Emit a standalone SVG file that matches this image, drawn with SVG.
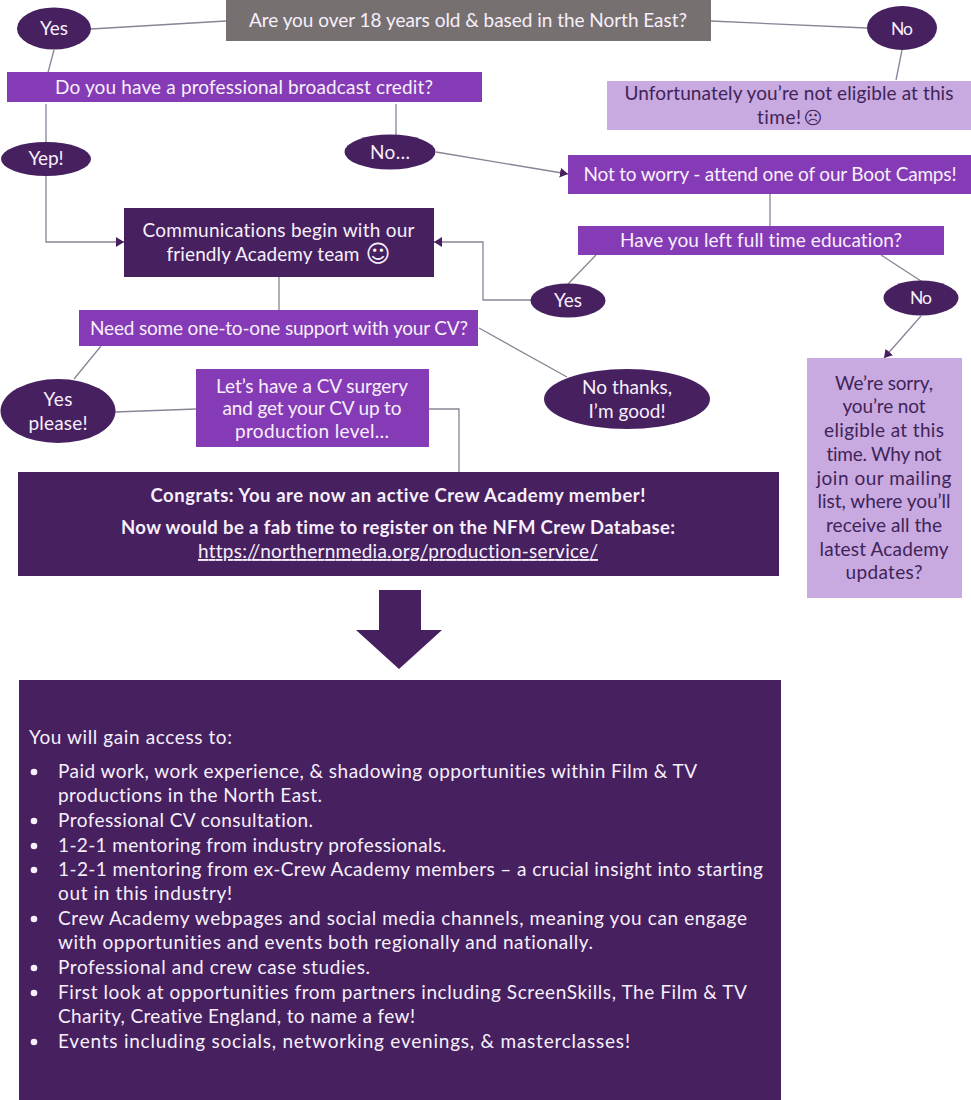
<svg xmlns="http://www.w3.org/2000/svg" width="971" height="1100" viewBox="0 0 971 1100">
<defs>
<marker id="arr" markerUnits="userSpaceOnUse" markerWidth="9" markerHeight="10" refX="8" refY="5" orient="auto"><path d="M0 0L8 5L0 10Z" fill="#46205f"/></marker>
</defs>
<style>
text{font-family:"Lato","Noto Sans",sans-serif;font-size:19px;fill:#f7effc;text-anchor:middle;font-variant-ligatures:none}
.d{fill:#3f2458}
.l{text-anchor:start}
.b{font-weight:700;font-size:18.500px}
.s{font-size:17.500px}
.e{font-family:"DejaVu Sans",sans-serif}
.dark{fill:#46205f}.pur{fill:#853bb5}.lil{fill:#c8a9e0}.gry{fill:#767170}
#connectors path{fill:none;stroke:#8a8296;stroke-width:1.3}
</style>
<rect width="971" height="1100" fill="#fff"/>
<g id="connectors">
<path d="M91 29L226 21"/>
<path d="M54 50L46 80"/>
<path d="M46 104V142"/>
<path d="M46 176V242H124" marker-end="url(#arr)"/>
<path d="M396 104V135"/>
<path d="M436 152L568 174" marker-end="url(#arr)"/>
<path d="M711 21L867 28"/>
<path d="M902 50L896 80"/>
<path d="M770 194V226"/>
<path d="M596 255L568 284"/>
<path d="M881 255L921 281"/>
<path d="M921 316L884 358" marker-end="url(#arr)"/>
<path d="M531 300H483V242H434" marker-end="url(#arr)"/>
<path d="M279 277V310"/>
<path d="M101 346L74 379"/>
<path d="M479 328L567 377"/>
<path d="M115 412L196 409"/>
<path d="M429 409H459V472"/>
</g>
<g id="n-start"><rect class="gry" x="226" y="0" width="485" height="41"/><text x="468" y="27" textLength="438">Are you over 18 years old &amp; based in the North East?</text></g>
<g id="n-yes1"><ellipse class="dark" cx="54" cy="28.500" rx="37" ry="21"/><text x="54" y="35" textLength="28">Yes</text></g>
<g id="n-no1"><ellipse class="dark" cx="902" cy="28" rx="35" ry="22"/><text class="s" x="902" y="35" textLength="22">No</text></g>
<g id="n-credit"><rect class="pur" x="7" y="72" width="475" height="30"/><text x="244" y="94" textLength="378">Do you have a professional broadcast credit?</text></g>
<g id="n-uneligible"><rect class="lil" x="607" y="81" width="364" height="49"/><text class="d" x="789" y="100" textLength="329">Unfortunately you’re not eligible at this</text><text class="d" x="779" y="124" textLength="44">time!</text><text class="d e" x="813" y="124" style="font-size:18px">☹</text></g>
<g id="n-yep"><ellipse class="dark" cx="46" cy="159" rx="45" ry="17"/><text x="46" y="165" textLength="35">Yep!</text></g>
<g id="n-nodots"><ellipse class="dark" cx="390" cy="152" rx="45.500" ry="17.500"/><text x="390" y="159" textLength="40">No…</text></g>
<g id="n-bootcamp"><rect class="pur" x="568" y="155" width="403" height="39"/><text x="770" y="181" textLength="373">Not to worry - attend one of our Boot Camps!</text></g>
<g id="n-comms"><rect class="dark" x="124" y="208" width="310" height="69"/><text x="278.500" y="237" textLength="272">Communications begin with our</text><text x="263" y="261" textLength="193">friendly Academy team</text><text class="e" x="378" y="262" style="font-size:24px">☺</text></g>
<g id="n-education"><rect class="pur" x="578" y="226" width="366" height="29"/><text x="761" y="247" textLength="282">Have you left full time education?</text></g>
<g id="n-yes2"><ellipse class="dark" cx="568" cy="300.500" rx="37.500" ry="17"/><text x="568" y="307" textLength="28">Yes</text></g>
<g id="n-no2"><ellipse class="dark" cx="921" cy="298" rx="37.500" ry="17.500"/><text class="s" x="921" y="304" textLength="22">No</text></g>
<g id="n-cvsupport"><rect class="pur" x="79" y="310" width="399" height="36"/><text x="279" y="335" textLength="378">Need some one-to-one support with your CV?</text></g>
<g id="n-sorry"><rect class="lil" x="807" y="358" width="155" height="240"/>
<text class="d" x="884" y="390" textLength="98">We’re sorry,</text><text class="d" x="884" y="413" textLength="83">you’re not</text><text class="d" x="884" y="437" textLength="120">eligible at this</text><text class="d" x="884" y="461" textLength="115">time. Why not</text><text class="d" x="884" y="485" textLength="135">join our mailing</text><text class="d" x="884" y="508" textLength="133">list, where you’ll</text><text class="d" x="884" y="532" textLength="116">receive all the</text><text class="d" x="884" y="556" textLength="129">latest Academy</text><text class="d" x="884" y="579" textLength="77">updates?</text></g>
<g id="n-yesplease"><ellipse class="dark" cx="58" cy="411" rx="57.500" ry="32"/><text x="58" y="406" textLength="29">Yes</text><text x="58" y="430" textLength="59">please!</text></g>
<g id="n-surgery"><rect class="pur" x="196" y="369" width="233" height="78"/><text x="312" y="393" textLength="192">Let’s have a CV surgery</text><text x="312" y="415" textLength="179">and get your CV up to</text><text x="312" y="438" textLength="154">production level…</text></g>
<g id="n-nothanks"><ellipse class="dark" cx="627" cy="399" rx="83" ry="30"/><text x="627" y="394" textLength="90">No thanks,</text><text x="627" y="418" textLength="77">I’m good!</text></g>
<g id="n-congrats"><rect class="dark" x="18" y="472" width="761" height="104"/><text class="b" x="398" y="502" textLength="495">Congrats: You are now an active Crew Academy member!</text><text class="b" x="398" y="534" textLength="554">Now would be a fab time to register on the NFM Crew Database:</text><text x="398" y="558" textLength="400" text-decoration="underline">https://northernmedia.org/production-service/</text></g>
<g id="n-arrow"><path class="dark" d="M379 590H421V630H442L399 669L356 630H379Z"/></g>
<g id="n-benefits"><rect class="dark" x="19" y="680" width="762" height="420"/>
<text class="l" x="29" y="744" textLength="203">You will gain access to:</text>
<g fill="#f7effc"><circle cx="34" cy="772" r="3.300"/><circle cx="34" cy="821" r="3.300"/><circle cx="34" cy="846" r="3.300"/><circle cx="34" cy="870" r="3.300"/><circle cx="34" cy="919" r="3.300"/><circle cx="34" cy="968" r="3.300"/><circle cx="34" cy="993" r="3.300"/><circle cx="34" cy="1042" r="3.300"/></g>
<text class="l" x="58" y="778" textLength="639">Paid work, work experience, &amp; shadowing opportunities within Film &amp; TV</text>
<text class="l" x="58" y="802" textLength="264">productions in the North East.</text>
<text class="l" x="58" y="827" textLength="255">Professional CV consultation.</text>
<text class="l" x="58" y="852" textLength="388">1-2-1 mentoring from industry professionals.</text>
<text class="l" x="58" y="876" textLength="705">1-2-1 mentoring from ex-Crew Academy members – a crucial insight into starting</text>
<text class="l" x="58" y="900" textLength="174">out in this industry!</text>
<text class="l" x="58" y="925" textLength="689">Crew Academy webpages and social media channels, meaning you can engage</text>
<text class="l" x="58" y="949" textLength="535">with opportunities and events both regionally and nationally.</text>
<text class="l" x="58" y="974" textLength="312">Professional and crew case studies.</text>
<text class="l" x="58" y="999" textLength="689">First look at opportunities from partners including ScreenSkills, The Film &amp; TV</text>
<text class="l" x="58" y="1023" textLength="357">Charity, Creative England, to name a few!</text>
<text class="l" x="58" y="1048" textLength="572">Events including socials, networking evenings, &amp; masterclasses!</text>
</g>
</svg>
